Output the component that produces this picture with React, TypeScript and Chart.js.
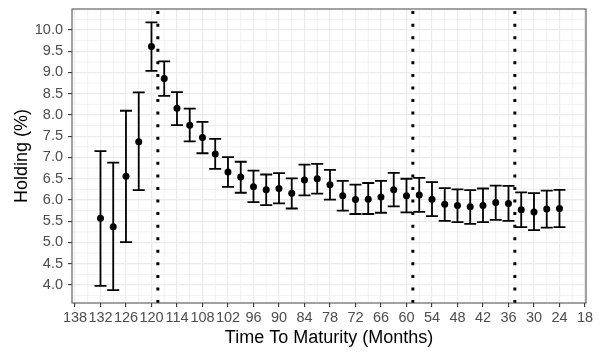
import React, { useEffect, useRef } from "react";
import { Chart, registerables } from "chart.js";
Chart.register(...registerables);

const months = [132, 129, 126, 123, 120, 117, 114, 111, 108, 105, 102, 99, 96, 93, 90, 87, 84, 81, 78, 75, 72, 69, 66, 63, 60, 57, 54, 51, 48, 45, 42, 39, 36, 33, 30, 27, 24];
const holding = [5.57, 5.37, 6.56, 7.37, 9.61, 8.86, 8.16, 7.76, 7.47, 7.08, 6.66, 6.54, 6.31, 6.24, 6.27, 6.16, 6.47, 6.50, 6.36, 6.10, 6.01, 6.02, 6.07, 6.24, 6.10, 6.12, 6.02, 5.90, 5.87, 5.84, 5.87, 5.94, 5.92, 5.77, 5.72, 5.79, 5.80];
const upper = [7.15, 6.88, 8.10, 8.53, 10.18, 9.26, 8.54, 8.15, 7.84, 7.44, 7.01, 6.90, 6.69, 6.60, 6.63, 6.51, 6.83, 6.85, 6.71, 6.45, 6.36, 6.40, 6.45, 6.64, 6.50, 6.52, 6.42, 6.28, 6.25, 6.23, 6.27, 6.34, 6.33, 6.18, 6.16, 6.22, 6.24];
const lower = [3.98, 3.88, 5.01, 6.23, 9.04, 8.45, 7.76, 7.38, 7.10, 6.73, 6.31, 6.17, 5.95, 5.88, 5.92, 5.80, 6.11, 6.15, 6.01, 5.75, 5.67, 5.67, 5.70, 5.85, 5.71, 5.72, 5.62, 5.51, 5.48, 5.44, 5.48, 5.53, 5.51, 5.36, 5.29, 5.35, 5.36];

const xTicks = [138, 132, 126, 120, 114, 108, 102, 96, 90, 84, 78, 72, 66, 60, 54, 48, 42, 36, 30, 24, 18];
const xMinorTicks = [135, 129, 123, 117, 111, 105, 99, 93, 87, 81, 75, 69, 63, 57, 51, 45, 39, 33, 27, 21];
const yTicks = [4.0, 4.5, 5.0, 5.5, 6.0, 6.5, 7.0, 7.5, 8.0, 8.5, 9.0, 9.5, 10.0];
const yMinorTicks = [3.75, 4.25, 4.75, 5.25, 5.75, 6.25, 6.75, 7.25, 7.75, 8.25, 8.75, 9.25, 9.75, 10.25];
const cutoffMonths = [118.5, 58.5, 34.5];

const FONT = '"Liberation Sans", Arial, sans-serif';

export default function App() {
  const ref = useRef<HTMLCanvasElement>(null);
  useEffect(() => {
    document.body.style.margin = "0";
    const canvas = ref.current!;
    const plugin = {
      id: "ggDecor",
      beforeDraw(chart: any) {
        const { ctx, chartArea: a, scales } = chart;
        const x = scales.x, y = scales.y;
        ctx.save();
        ctx.fillStyle = "#ffffff";
        ctx.fillRect(0, 0, chart.width, chart.height);
        ctx.strokeStyle = "#ebebeb";
        ctx.lineWidth = 0.7;
        for (const v of xMinorTicks) {
          const px = x.getPixelForValue(v);
          ctx.beginPath(); ctx.moveTo(px, a.top); ctx.lineTo(px, a.bottom); ctx.stroke();
        }
        for (const v of yMinorTicks) {
          const py = y.getPixelForValue(v);
          ctx.beginPath(); ctx.moveTo(a.left, py); ctx.lineTo(a.right, py); ctx.stroke();
        }
        ctx.restore();
      },
      beforeDatasetsDraw(chart: any) {
        const { ctx, scales } = chart;
        const x = scales.x, y = scales.y;
        ctx.save();
        ctx.strokeStyle = "#000000";
        ctx.lineWidth = 1.8;
        const cap = 6;
        months.forEach((m, i) => {
          const px = x.getPixelForValue(m);
          const pt = y.getPixelForValue(upper[i]);
          const pb = y.getPixelForValue(lower[i]);
          ctx.beginPath();
          ctx.moveTo(px, pt); ctx.lineTo(px, pb);
          ctx.moveTo(px - cap, pt); ctx.lineTo(px + cap, pt);
          ctx.moveTo(px - cap, pb); ctx.lineTo(px + cap, pb);
          ctx.stroke();
        });
        ctx.restore();
      },
      afterDatasetsDraw(chart: any) {
        const { ctx, chartArea: a, scales } = chart;
        const x = scales.x;
        ctx.save();
        ctx.strokeStyle = "#000000";
        ctx.lineWidth = 3;
        ctx.setLineDash([3, 9.56]);
        for (const v of cutoffMonths) {
          const px = x.getPixelForValue(v);
          ctx.beginPath(); ctx.moveTo(px, a.bottom); ctx.lineTo(px, a.top); ctx.stroke();
        }
        ctx.restore();
      },
      afterDraw(chart: any) {
        const { ctx, chartArea: a } = chart;
        ctx.save();
        ctx.strokeStyle = "#555555";
        ctx.lineWidth = 1.1;
        ctx.strokeRect(a.left, a.top, a.right - a.left, a.bottom - a.top);
        ctx.restore();
      },
    };

    const chart = new Chart(canvas, {
      type: "scatter",
      data: {
        datasets: [
          {
            data: months.map((m, i) => ({ x: m, y: holding[i] })),
            backgroundColor: "#000000",
            borderColor: "#000000",
            pointRadius: 3.5,
            pointBorderWidth: 0,
          },
        ],
      },
      options: {
        animation: false,
        responsive: false,
        devicePixelRatio: 1,
        layout: { padding: { top: 9, right: 14, left: 0, bottom: 0 } },
        plugins: { legend: { display: false }, tooltip: { enabled: false } },
        scales: {
          x: {
            type: "linear",
            reverse: true,
            min: 17.76,
            max: 138.7,
            afterBuildTicks: (s: any) => { s.ticks = xTicks.map((v) => ({ value: v })); },
            afterFit: (s: any) => { s.height = 49; s.paddingLeft = 0; s.paddingRight = 0; },
            ticks: {
              autoSkip: false,
              maxRotation: 0,
              includeBounds: false,
              padding: 2,
              color: "#4d4d4d",
              font: { family: FONT, size: 14.5 },
              callback: (v: any) => String(v),
            },
            grid: { color: "#ebebeb", lineWidth: 1.2, tickColor: "#333333", tickLength: 4, tickWidth: 1.1 },
            border: { display: false },
            title: {
              display: true,
              text: "Time To Maturity (Months)",
              color: "#000000",
              font: { family: FONT, size: 18 },
              padding: { top: 0, bottom: 3 },
            },
          },
          y: {
            type: "linear",
            min: 3.576,
            max: 10.494,
            afterBuildTicks: (s: any) => { s.ticks = yTicks.map((v) => ({ value: v })); },
            afterFit: (s: any) => { s.width = 72; s.paddingTop = 0; s.paddingBottom = 0; },
            ticks: {
              autoSkip: false,
              includeBounds: false,
              padding: 5,
              color: "#4d4d4d",
              font: { family: FONT, size: 14.5 },
              callback: (v: any) => Number(v).toFixed(1),
            },
            grid: { color: "#ebebeb", lineWidth: 1.2, tickColor: "#333333", tickLength: 4, tickWidth: 1.1 },
            border: { display: false },
            title: {
              display: true,
              text: "Holding (%)",
              color: "#000000",
              font: { family: FONT, size: 18 },
              padding: { top: 11, bottom: 0 },
            },
          },
        },
      },
      plugins: [plugin],
    } as any);
    return () => chart.destroy();
  }, []);
  return (
    <div style={{ position: "fixed", left: 0, top: 0, width: 600, height: 352 }}>
      <canvas ref={ref} width={600} height={352} style={{ width: 600, height: 352, display: "block" }} />
    </div>
  );
}
